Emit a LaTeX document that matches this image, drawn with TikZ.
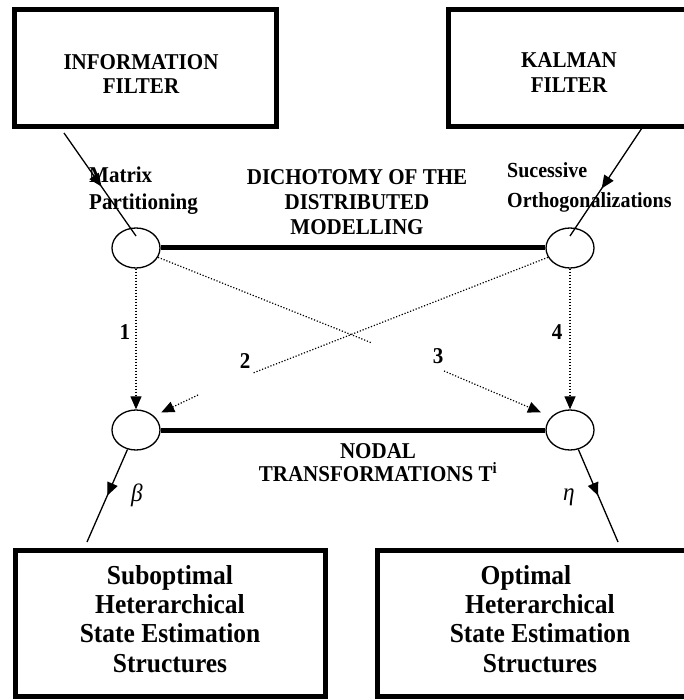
\documentclass[tikz,border=0pt]{standalone}
\usepackage{fontspec}
\setmainfont{Liberation Serif}[FakeStretch=0.93]
\usetikzlibrary{arrows.meta,shapes.geometric,decorations.markings}
\begin{document}
\begin{tikzpicture}[x=1pt,y=-1pt,
  frame/.style={draw, line width=5pt, rectangle, inner sep=0pt},
  hub/.style={ellipse, draw, line width=1.3pt, minimum width=48pt, minimum height=40pt, inner sep=0pt},
  lbl/.style={font=\fontsize{22.6}{25}\selectfont\bfseries, inner sep=0pt, align=center},
  big/.style={font=\fontsize{27.4}{29.3}\selectfont\bfseries, inner sep=0pt, align=center},
  greek/.style={font=\fontsize{25}{28}\selectfont\itshape, inner sep=0pt},
  bar/.style={line width=5pt},
  dots/.style={line width=1.2pt, dash pattern=on 1.2pt off 1.8pt},
  tip/.style={-{Triangle[length=13pt,width=11pt]}},
  midarrow/.style={line width=1.3pt, postaction={decorate},
    decoration={markings, mark=at position #1 with {\arrow{Triangle[length=13pt,width=11pt]}}}},
]
\useasboundingbox (0,0) rectangle (683,700);

% boxes
\node[frame, minimum width=262pt, minimum height=117pt] (bIF) at (145.5,68) {};
\node[frame, minimum width=252pt, minimum height=117pt] (bKF) at (574,68) {};
\node[frame, minimum width=310pt, minimum height=145.5pt] (bSO) at (170.5,623.25) {};
\node[frame, minimum width=332pt, minimum height=145.5pt] (bOP) at (543.5,623.25) {};

% box texts
\node[lbl, font=\fontsize{22.6}{24}\selectfont\bfseries] (tIF) at (141,74) {INFORMATION\\FILTER};
\node[lbl, font=\fontsize{22.6}{25}\selectfont\bfseries] (tKF) at (569,73) {KALMAN\\FILTER};
\node[big] (tSO) at (170,619) {Suboptimal\\Heterarchical\\State Estimation\\Structures};
\node[big] (tOP) at (540,619) {Optimal\hspace*{28pt}\\Heterarchical\\State Estimation\\Structures};

% labels
\node[lbl, align=left, anchor=west, font=\fontsize{22.6}{27}\selectfont\bfseries] (tMP) at (89,190.5) {Matrix\\Partitioning};
\node[lbl, align=left, anchor=west, font=\fontsize{21.5}{30}\selectfont\bfseries] (tSU) at (507,187) {Sucessive\\Orthogonalizations};
\node[lbl] (tDM) at (357,202) {DICHOTOMY OF THE\\DISTRIBUTED\\MODELLING};
\node[lbl, font=\fontsize{22.6}{23}\selectfont\bfseries] (tNT) at (378,462.5) {NODAL\\TRANSFORMATIONS T\textsuperscript{i}};

% hubs
\node[hub] (c1) at (136,248) {};
\node[hub] (c2) at (570,248) {};
\node[hub] (c3) at (136,430) {};
\node[hub] (c4) at (570,430) {};

% thick bars
\draw[bar] (c1) -- (c2);
\draw[bar] (c3) -- (c4);

% number labels
\node[lbl] (n1) at (125,332) {1};
\node[lbl] (n2) at (245,361) {2};
\node[lbl] (n3) at (438,356) {3};
\node[lbl] (n4) at (557,332) {4};

% dotted connectors
\draw[dots, tip] (c1) -- (c3);
\draw[dots, tip] (c2) -- (c4);
\coordinate (g1) at (372,343);
\coordinate (g1b) at (444,371);
\coordinate (g2) at (253,373);
\coordinate (g2b) at (198,395);
\draw[dots] (c1.-23) -- (g1);
\draw[dots, tip, shorten >=11pt] (g1b) -- (c4.145);
\draw[dots] (c2.203) -- (g2);
\draw[dots, tip, shorten >=8pt] (g2b) -- (c3.38);

% inputs from filters
\coordinate (s1) at (64,133);
\coordinate (s2) at (642,128);
\coordinate (h1) at (136,236);
\coordinate (h2) at (570,236);
\draw[midarrow=0.52] (s1) -- (h1);
\draw[midarrow=0.56] (s2) -- (h2);

% outputs
\coordinate (e3) at (87,542);
\coordinate (e4) at (618,542);
\draw[midarrow=0.5] (c3) -- (e3);
\draw[midarrow=0.5] (c4) -- (e4);
\node[greek] (beta) at (137,495) {β};
\node[greek] (eta) at (569,497) {η};
\end{tikzpicture}
\end{document}
